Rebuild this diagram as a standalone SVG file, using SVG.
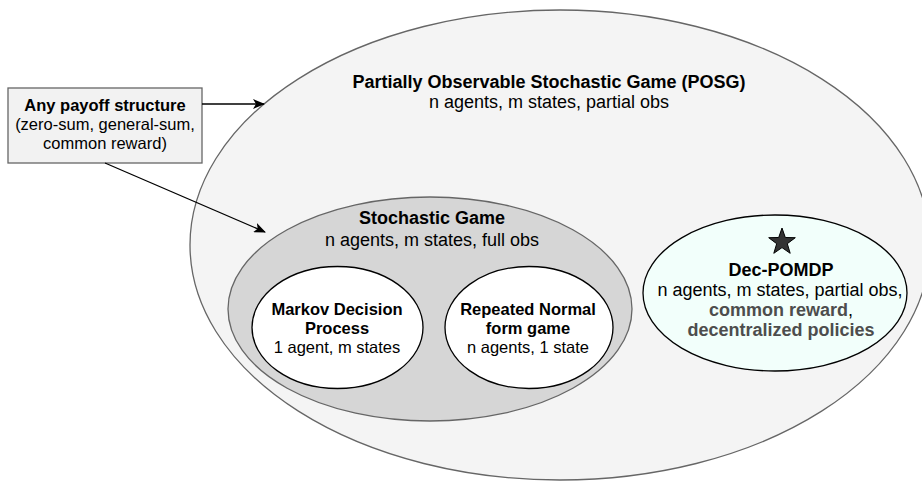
<svg xmlns="http://www.w3.org/2000/svg" width="922" height="482" viewBox="0 0 922 482">
  <style>
    text { font-family: "Liberation Sans", Arial, sans-serif; font-size: 16.5px; fill: #000; text-anchor: middle; }
    .lg { font-size: 18px; }
    .b { font-weight: bold; }
    .g { font-weight: bold; fill: #4d4d4d; }
    .edge { stroke: #000; stroke-width: 1.3; fill: none; marker-end: url(#arrow); }
  </style>
  <defs>
    <marker id="arrow" viewBox="0 0 12 10" refX="11" refY="5" markerWidth="12" markerHeight="10" markerUnits="userSpaceOnUse" orient="auto">
      <path d="M0,0 L12,5 L0,10 L3,5 Z" fill="#000"/>
    </marker>
  </defs>

  <rect width="922" height="482" fill="#fff"/>

  <!-- outer POSG region -->
  <g id="posg">
    <ellipse cx="560" cy="245" rx="370" ry="235" fill="#f4f4f4" stroke="#666" stroke-width="1.3"/>
    <text x="549" y="88" class="lg b">Partially Observable Stochastic Game (POSG)</text>
    <text x="549" y="108" class="lg">n agents, m states, partial obs</text>
  </g>

  <!-- stochastic game region -->
  <g id="stochastic-game">
    <ellipse cx="430" cy="309" rx="202" ry="112" fill="#d6d6d6" stroke="#666" stroke-width="1.3"/>
    <text x="432" y="224" class="lg b">Stochastic Game</text>
    <text x="432" y="246" class="lg">n agents, m states, full obs</text>
  </g>

  <g id="mdp">
    <ellipse cx="337.5" cy="327.5" rx="85.5" ry="61" fill="#fff" stroke="#000" stroke-width="1.3"/>
    <text x="337" y="315" class="b">Markov Decision</text>
    <text x="337" y="334" class="b">Process</text>
    <text x="337" y="353">1 agent, m states</text>
  </g>

  <g id="repeated-normal-form">
    <ellipse cx="529" cy="327.5" rx="84" ry="61" fill="#fff" stroke="#000" stroke-width="1.3"/>
    <text x="528" y="315" class="b">Repeated Normal</text>
    <text x="528" y="334" class="b">form game</text>
    <text x="528" y="353">n agents, 1 state</text>
  </g>

  <g id="dec-pomdp">
    <ellipse cx="775" cy="293" rx="132" ry="78" fill="#f2fffb" stroke="#000" stroke-width="1.3"/>
    <polygon points="782,228 785.3,237.5 795.3,237.7 787.3,243.7 790.2,253.3 782,247.6 773.8,253.3 776.7,243.7 768.7,237.7 778.7,237.5" fill="#333" stroke="#000" stroke-width="1"/>
    <text x="781" y="276" class="lg b">Dec-POMDP</text>
    <text x="780" y="296" class="lg">n agents, m states, partial obs,</text>
    <text x="781" y="316" class="lg"><tspan class="g">common reward</tspan>,</text>
    <text x="781" y="336" class="lg g">decentralized policies</text>
  </g>

  <g id="payoff">
    <rect x="8" y="88" width="194" height="75" fill="#f2f2f2" stroke="#666" stroke-width="1.3"/>
    <text x="105" y="111" class="b">Any payoff structure</text>
    <text x="105" y="130">(zero-sum, general-sum,</text>
    <text x="105" y="149">common reward)</text>
  </g>

  <!-- connectors -->
  <g id="connectors">
    <path class="edge" d="M202,104 L264,104"/>
    <path class="edge" d="M105,163 L265,232"/>
  </g>
</svg>
